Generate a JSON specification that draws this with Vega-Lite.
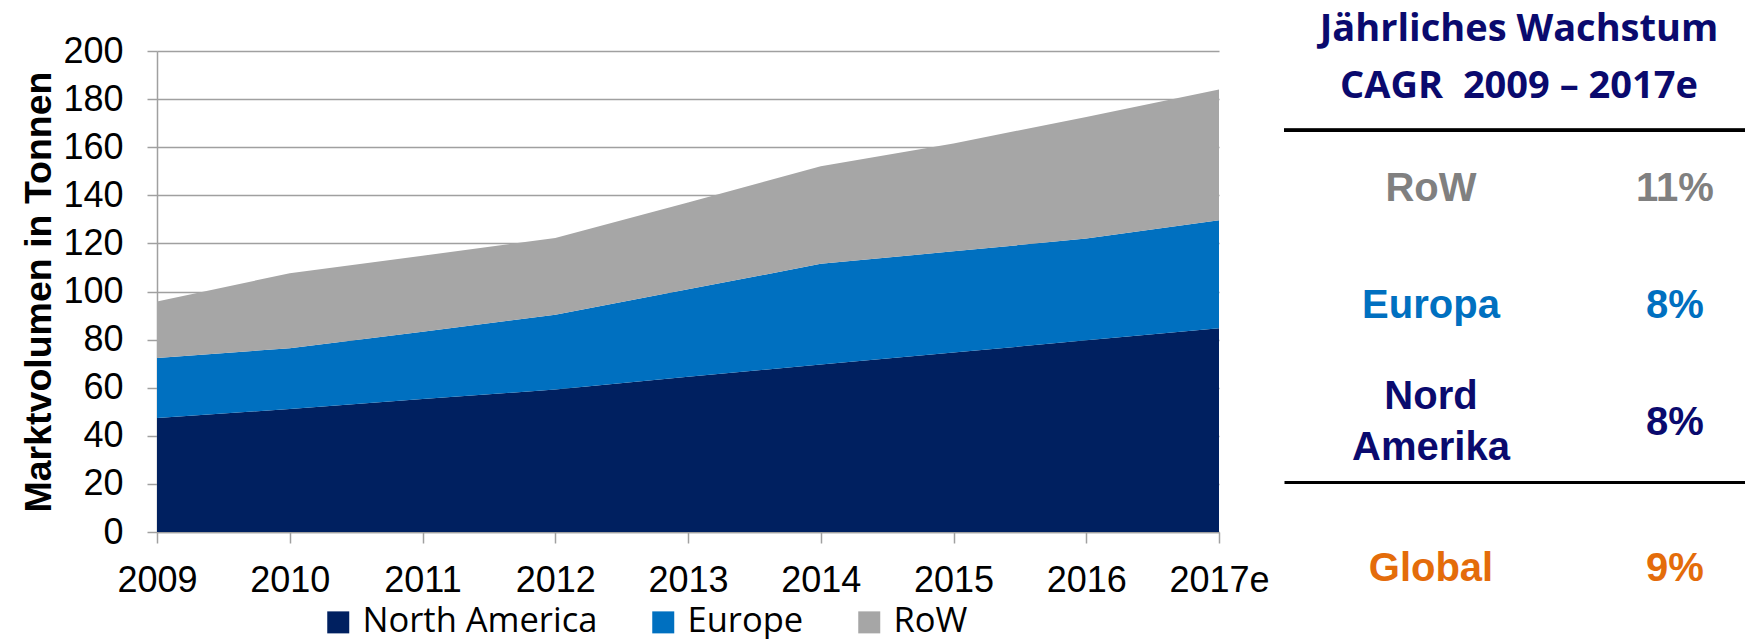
{
  "$schema": "https://vega.github.io/schema/vega-lite/v6.json",
  "background": "white",
  "padding": {"top": 11, "left": 20, "right": 0, "bottom": 0},
  "config": {"view": {"stroke": null}},
  "datasets": {
    "market": [
      {"year": "2009", "region": "North America", "volume": 47.4},
      {"year": "2009", "region": "Europe", "volume": 25.0},
      {"year": "2009", "region": "RoW", "volume": 23.4},
      {"year": "2010", "region": "North America", "volume": 51.1},
      {"year": "2010", "region": "Europe", "volume": 25.3},
      {"year": "2010", "region": "RoW", "volume": 31.2},
      {"year": "2011", "region": "North America", "volume": 55.3},
      {"year": "2011", "region": "Europe", "volume": 28.0},
      {"year": "2011", "region": "RoW", "volume": 31.6},
      {"year": "2012", "region": "North America", "volume": 59.2},
      {"year": "2012", "region": "Europe", "volume": 31.1},
      {"year": "2012", "region": "RoW", "volume": 31.9},
      {"year": "2013", "region": "North America", "volume": 64.6},
      {"year": "2013", "region": "Europe", "volume": 36.3},
      {"year": "2013", "region": "RoW", "volume": 36.1},
      {"year": "2014", "region": "North America", "volume": 69.6},
      {"year": "2014", "region": "Europe", "volume": 41.9},
      {"year": "2014", "region": "RoW", "volume": 40.6},
      {"year": "2015", "region": "North America", "volume": 74.6},
      {"year": "2015", "region": "Europe", "volume": 42.1},
      {"year": "2015", "region": "RoW", "volume": 44.8},
      {"year": "2016", "region": "North America", "volume": 79.7},
      {"year": "2016", "region": "Europe", "volume": 42.3},
      {"year": "2016", "region": "RoW", "volume": 50.6},
      {"year": "2017e", "region": "North America", "volume": 84.7},
      {"year": "2017e", "region": "Europe", "volume": 44.9},
      {"year": "2017e", "region": "RoW", "volume": 54.4}
    ],
    "cagr": [
      {"region": "RoW", "label": "RoW", "rate": "11%"},
      {"region": "Europa", "label": "Europa", "rate": "8%"},
      {"region": "Nord Amerika", "label": "Nord\nAmerika", "rate": "8%"},
      {"region": "Global", "label": "Global", "rate": "9%"}
    ]
  },
  "resolve": {"scale": {"color": "independent"}, "legend": {"color": "independent"}},
  "spacing": 12,
  "hconcat": [
    {
      "width": 1062,
      "height": 481,
      "data": {"name": "market"},
      "transform": [
        {"stack": "volume", "groupby": ["year"], "as": ["lower", "upper"]}
      ],
      "mark": {"type": "area", "interpolate": "linear"},
      "encoding": {
        "x": {
          "field": "year", "type": "ordinal",
          "scale": {"type": "point", "padding": 0},
          "axis": {
            "title": null, "labelAngle": 0, "labelFont": "Liberation Sans", "labelFontSize": 36,
            "labelColor": "#000000", "labelPadding": 20, "tickSize": 11, "tickColor": "#A0A0A0",
            "tickWidth": 1.5, "domainColor": "#A0A0A0", "domainWidth": 1.5, "grid": false
          }
        },
        "y": {
          "field": "upper", "type": "quantitative",
          "scale": {"domain": [0, 200], "nice": false},
          "axis": {
            "title": "Marktvolumen in Tonnen", "titleFont": "Liberation Sans", "titleFontSize": 37.5,
            "titleFontWeight": "bold", "titleColor": "#000000", "titlePadding": 4,
            "values": [0, 20, 40, 60, 80, 100, 120, 140, 160, 180, 200],
            "labelFont": "Liberation Sans", "labelFontSize": 36, "labelColor": "#000000", "labelPadding": 24,
            "tickSize": 10, "tickColor": "#A0A0A0", "tickWidth": 1.5,
            "domainColor": "#A0A0A0", "domainWidth": 1.5,
            "grid": true, "gridColor": "#A0A0A0", "gridWidth": 1.5
          }
        },
        "y2": {"field": "lower"},
        "color": {
          "field": "region", "type": "nominal",
          "scale": {"domain": ["North America", "Europe", "RoW"], "range": ["#002060", "#0070C0", "#A6A6A6"]},
          "legend": {
            "title": " ", "titleOrient": "left", "titlePadding": 164,
            "orient": "bottom", "direction": "horizontal", "symbolType": "square",
            "symbolSize": 484, "symbolStrokeWidth": 0, "symbolOpacity": 1, "labelFont": "Open Sans",
            "labelFontSize": 34.5, "labelColor": "#000000", "labelOffset": 7, "labelLimit": 400,
            "columnPadding": 48, "offset": 7
          }
        }
      }
    },
    {
      "spacing": 0,
      "vconcat": [
        {
          "width": 464,
          "height": 431,
          "title": {
            "text": ["Jährliches Wachstum", "CAGR\u00a0 2009 – 2017e"],
            "font": "Open Sans", "fontSize": 38, "fontWeight": "bold", "color": "#0A0A6E",
            "lineHeight": 57, "offset": -55, "anchor": "middle", "dx": 3
          },
          "data": {"name": "cagr"},
          "transform": [
            {"filter": "datum.region !== 'Global'"},
            {"fold": ["label", "rate"], "as": ["column", "cell"]}
          ],
          "encoding": {
            "x": {
              "field": "column", "type": "nominal",
              "scale": {"type": "point", "domain": ["label", "rate"], "padding": 0.451, "align": 0.668},
              "axis": null
            },
            "y": {
              "field": "region", "type": "nominal",
              "scale": {"type": "band", "domain": ["RoW", "Europa", "Nord Amerika"], "paddingInner": 0, "paddingOuter": 0.338, "align": 1},
              "axis": null
            },
            "text": {"field": "cell", "type": "nominal"},
            "color": {
              "field": "region", "type": "nominal",
              "scale": {"domain": ["RoW", "Europa", "Nord Amerika", "Global"], "range": ["#808080", "#0070C0", "#0A0A6E", "#E46C0A"]},
              "legend": null
            }
          },
          "layer": [
            {
              "mark": {"type": "rule", "color": "#000000", "strokeWidth": 3},
              "encoding": {
                "x": null,
                "text": null,
                "color": null,
                "y": {
                  "datum": "RoW", "type": "nominal", "bandPosition": 0,
                  "scale": {"type": "band", "domain": ["RoW", "Europa", "Nord Amerika"], "paddingInner": 0, "paddingOuter": 0.338, "align": 1},
                  "axis": null
                }
              }
            },
            {
              "transform": [{"filter": "datum.region !== 'Nord Amerika' || datum.column === 'rate'"}],
              "mark": {
                "type": "text", "font": "Liberation Sans", "fontSize": 40, "fontWeight": "bold",
                "baseline": "middle", "align": "center"
              }
            },
            {
              "transform": [{"filter": "datum.region === 'Nord Amerika' && datum.column === 'label'"}],
              "mark": {
                "type": "text", "font": "Liberation Sans", "fontSize": 40, "fontWeight": "bold",
                "lineBreak": "\n", "lineHeight": 51, "baseline": "line-bottom", "align": "center"
              }
            }
          ]
        },
        {
          "width": 464,
          "height": 150,
          "data": {"name": "cagr"},
          "transform": [
            {"filter": "datum.region === 'Global'"},
            {"fold": ["label", "rate"], "as": ["column", "cell"]}
          ],
          "mark": {
            "type": "text", "font": "Liberation Sans", "fontSize": 40, "fontWeight": "bold",
            "baseline": "middle", "align": "center"
          },
          "encoding": {
            "x": {
              "field": "column", "type": "nominal",
              "scale": {"type": "point", "domain": ["label", "rate"], "padding": 0.451, "align": 0.668},
              "axis": {"orient": "top", "title": null, "labels": false, "ticks": false, "grid": false, "domainColor": "#000000", "domainWidth": 3}
            },
            "y": {
              "field": "region", "type": "nominal",
              "scale": {"type": "point", "align": 0.583},
              "axis": null
            },
            "text": {"field": "cell", "type": "nominal"},
            "color": {
              "field": "region", "type": "nominal",
              "scale": {"domain": ["RoW", "Europa", "Nord Amerika", "Global"], "range": ["#808080", "#0070C0", "#0A0A6E", "#E46C0A"]},
              "legend": null
            }
          }
        }
      ]
    }
  ]
}
